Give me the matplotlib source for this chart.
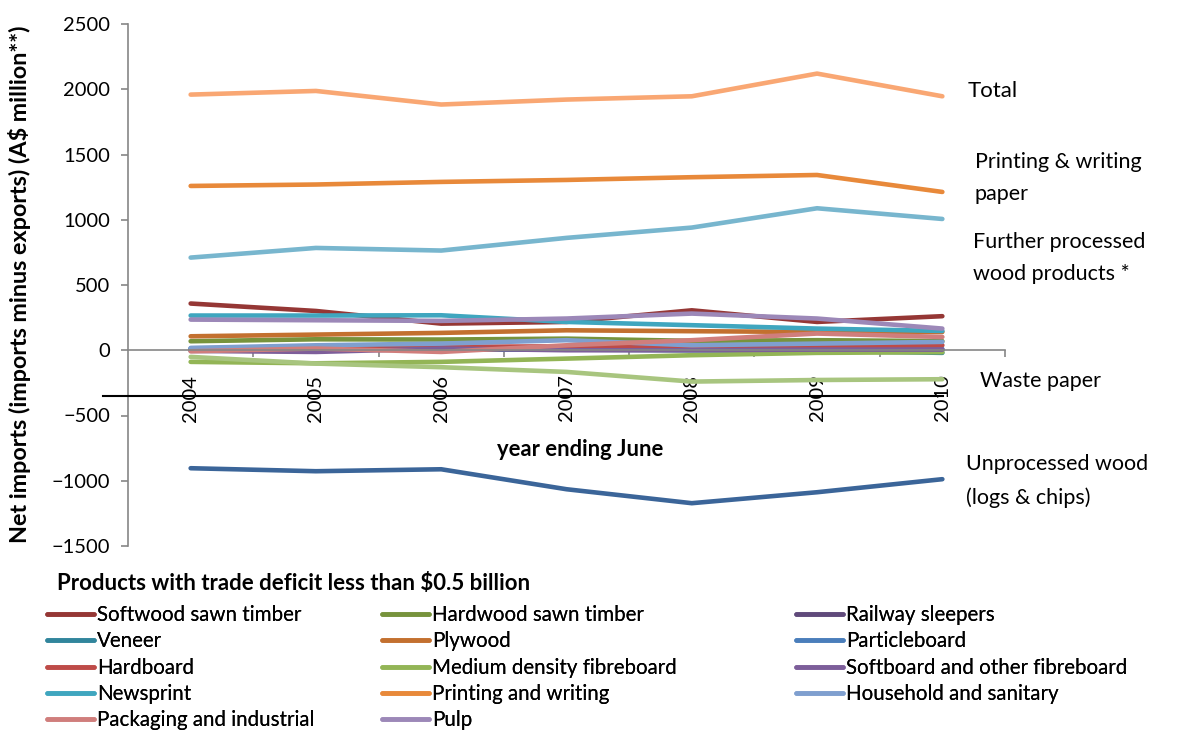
import matplotlib
matplotlib.use("Agg")
import matplotlib.pyplot as plt
from matplotlib.lines import Line2D

plt.rcParams['font.family'] = ['Lato', 'DejaVu Sans']

years = [2004, 2005, 2006, 2007, 2008, 2009, 2010]

# Labelled series
total = [1959, 1987, 1883, 1921, 1946, 2120, 1946]
printing_writing = [1259, 1270, 1290, 1305, 1326, 1343, 1213]
further_processed = [710, 784, 764, 861, 940, 1088, 1006]
unprocessed_wood = [-904, -927, -912, -1065, -1172, -1088, -988]
waste_paper = [-51, -102, -130, -166, -240, -228, -222]

# Products with trade deficit less than $0.5 billion
softwood = [358, 301, 204, 217, 306, 217, 261]
hardwood = [69, 84, 82, 89, 72, 77, 70]
railway = [5, 5, 8, 5, 3, 3, 2]
veneer = [10, 5, 5, 5, 0, -5, -20]
plywood = [107, 120, 133, 153, 146, 140, 140]
particleboard = [15, 20, 25, 20, 15, 10, 10]
hardboard = [0, 10, 26, 30, 30, 30, 38]
mdf = [-89, -100, -89, -64, -38, -20, -15]
softboard = [-5, -13, 13, 0, 0, 5, 5]
newsprint = [266, 266, 268, 217, 192, 166, 148]
household = [18, 38, 51, 77, 38, 51, 64]
packaging = [-8, 13, -13, 38, 77, 128, 102]
pulp = [235, 230, 225, 243, 281, 243, 166]

legend_names = ["Softwood sawn timber", "Hardwood sawn timber", "Railway sleepers",
                "Veneer", "Plywood", "Particleboard",
                "Hardboard", "Medium density fibreboard", "Softboard and other fibreboard",
                "Newsprint", "Printing and writing", "Household and sanitary",
                "Packaging and industrial", "Pulp"]
legend_values = [softwood, hardwood, railway, veneer, plywood, particleboard,
                 hardboard, mdf, softboard, newsprint, printing_writing, household,
                 packaging, pulp]
legend_colors = ['#953735', '#77933C', '#604A7B', '#31859C', '#C3702F', '#4A7EBB',
                 '#BE4B48', '#93B556', '#7D5E9A', '#3FA6BF', '#E8893A', '#7F9FCF',
                 '#D07E7C', '#9C88B8']

fig = plt.figure(figsize=(11.95, 7.31), dpi=100)
ax = fig.add_axes([128/1195, 1-546/731, (1005-128)/1195, (546-24)/731])

lw = 3.3
handles = {}
for name, vals, col in zip(legend_names, legend_values, legend_colors):
    h, = ax.plot(years, vals, color=col, lw=lw, solid_capstyle='round',
                 solid_joinstyle='round', label=name)
    handles[name] = h

ax.plot(years, waste_paper, color='#A8C57F', lw=lw, solid_capstyle='round', solid_joinstyle='round')
ax.plot(years, further_processed, color='#78B6CE', lw=lw, solid_capstyle='round', solid_joinstyle='round')
ax.plot(years, unprocessed_wood, color='#3B6599', lw=lw, solid_capstyle='round', solid_joinstyle='round')
ax.plot(years, total, color='#F9A773', lw=lw, solid_capstyle='round', solid_joinstyle='round')

ax.set_xlim(2003.5, 2010.5)
ax.set_ylim(-1500, 2500)
ax.set_yticks(range(-1500, 2501, 500))
ax.set_xticks(years)
ax.set_xticks([y + 0.5 for y in years], minor=True)

for s in ['top', 'right']:
    ax.spines[s].set_visible(False)
ax.spines['left'].set_color('#868686')
ax.spines['bottom'].set_color('#868686')
ax.spines['bottom'].set_position(('data', 0))
ax.spines['left'].set_linewidth(1.2)
ax.spines['bottom'].set_linewidth(1.2)

ax.tick_params(axis='y', direction='out', length=5, width=1.2, color='#868686',
               labelsize=14.5, pad=8)
ax.tick_params(axis='x', which='major', length=0, labelsize=14.5, pad=17.5, labelrotation=90)
ax.tick_params(axis='x', which='minor', direction='out', length=5, width=1.2, color='#868686')
for lab in ax.get_xticklabels():
    lab.set_va('top')

# Y label
fig.text(20/1195, 1-284/731, "Net imports (imports minus exports) (A$ million**)",
         rotation=90, ha='center', va='center', fontsize=16.8, fontweight='bold')
fig.text(580/1195, 1-449/731, "year ending June", ha='center', va='center',
         fontsize=15.8, fontweight='bold')

# black horizontal line
fig.add_artist(Line2D([103/1195, 943/1195], [1-396/731, 1-396/731], color='black', lw=1.5))

# Right-side labels
fs = 15.5
fig.text(968/1195, 1-91/731, "Total", ha='left', va='center', fontsize=fs + 0.5)
fig.text(975/1195, 1-178/731, "Printing & writing\npaper", ha='left', va='center', fontsize=fs, linespacing=1.75)
fig.text(973/1195, 1-258/731, "Further processed\nwood products *", ha='left', va='center', fontsize=fs, linespacing=1.75)
fig.text(980/1195, 1-381/731, "Waste paper", ha='left', va='center', fontsize=fs)
fig.text(966/1195, 1-481/731, "Unprocessed wood\n(logs & chips)", ha='left', va='center', fontsize=fs, linespacing=1.75)

# Legend
fig.text(57/1195, 1-584/731, "Products with trade deficit less than $0.5 billion",
         ha='left', va='center', fontsize=16, fontweight='bold')
cols = [legend_names[0::3], legend_names[1::3], legend_names[2::3]]
col_x = [47, 382, 796]
for names, x in zip(cols, col_x):
    leg = fig.legend([handles[n] for n in names], names, loc='upper left',
                     bbox_to_anchor=(x/1195, 1-605/731), frameon=False,
                     fontsize=14.8, handlelength=2.3, handletextpad=0.15,
                     labelspacing=0.31, borderpad=0, borderaxespad=0)
    fig.add_artist(leg)

fig.savefig("out.png", dpi=100)
